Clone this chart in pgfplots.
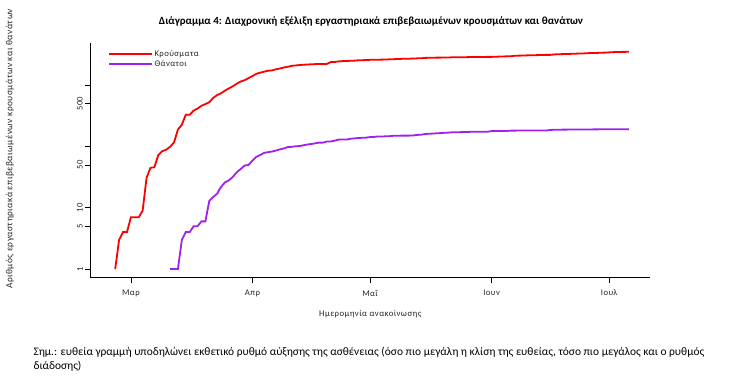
\documentclass[border=0pt]{standalone}
\usepackage{pgfplots}
\usepackage{pgfplotstable}
\pgfplotsset{compat=1.18}
\usepackage{fontspec}
\setmainfont{Carlito}
\newfontfamily\plotfont{Carlito}[LetterSpace=5]
\definecolor{rred}{HTML}{FF0000}
\definecolor{rpurple}{HTML}{A020F0}

\pgfplotstableread{
d v
-4 1
-3 3
-2 4
-1 4
0 7
1 7
2 7
3 9
4 31
5 45
6 46
7 73
8 84
9 89
10 99
11 117
12 190
13 228
14 331
15 331
16 387
17 418
18 464
19 495
20 530
21 624
22 695
23 743
24 821
25 892
26 966
27 1061
28 1156
29 1212
30 1314
31 1415
32 1544
33 1613
34 1673
35 1735
36 1755
37 1832
38 1884
39 1955
40 2011
41 2081
42 2114
43 2145
44 2170
45 2192
46 2207
47 2224
48 2235
49 2235
50 2245
51 2401
52 2408
53 2463
54 2490
55 2506
56 2517
57 2534
58 2566
59 2576
60 2591
61 2612
62 2620
63 2626
64 2632
65 2642
66 2663
67 2678
68 2691
69 2710
70 2716
71 2726
72 2744
73 2760
74 2770
75 2810
76 2819
77 2834
78 2836
79 2840
80 2850
81 2853
82 2873
83 2876
84 2878
85 2882
86 2892
87 2903
88 2906
89 2909
90 2915
91 2917
92 2918
93 2937
94 2952
95 2967
96 2980
97 2997
98 3049
99 3058
100 3068
101 3088
102 3108
103 3112
104 3121
105 3134
106 3148
107 3148
108 3203
109 3227
110 3237
111 3256
112 3266
113 3287
114 3302
115 3310
116 3343
117 3366
118 3376
119 3390
120 3409
121 3432
122 3458
123 3486
124 3511
125 3519
126 3525
127 3535
}\cases

\pgfplotstableread{
d v
10 1
11 1
12 1
13 3
14 4
15 4
16 5
17 5
18 6
19 6
20 13
21 15
22 17
23 22
24 26
25 28
26 32
27 38
28 43
29 49
30 50
31 59
32 68
33 73
34 79
35 81
36 83
37 86
38 90
39 93
40 98
41 99
42 101
43 102
44 105
45 108
46 110
47 113
48 116
49 116
50 121
51 121
52 125
53 130
54 130
55 130
56 134
57 136
58 138
59 139
60 140
61 143
62 144
63 146
64 146
65 147
66 148
67 150
68 150
69 151
70 151
71 151
72 152
73 155
74 156
75 160
76 162
77 163
78 165
79 166
80 168
81 169
82 171
83 171
84 172
85 173
86 173
87 175
88 175
89 175
90 175
91 175
92 179
93 179
94 179
95 180
96 180
97 182
98 182
99 183
100 183
101 183
102 183
103 183
104 183
105 183
106 183
107 187
108 188
109 188
110 189
111 189
112 190
113 190
114 190
115 190
116 190
117 190
118 191
119 191
120 192
121 192
122 192
123 192
124 192
125 192
126 192
127 192
}\deaths

\begin{document}
\begin{tikzpicture}[x=1bp,y=1bp]
\path[use as bounding box] (0,0) rectangle (741,391);
\node[font=\fontsize{11}{13}\selectfont\bfseries] at (371,370) {Διάγραμμα 4: Διαχρονική εξέλιξη εργαστηριακά επιβεβαιωμένων κρουσμάτων και θανάτων};
\begin{axis}[
  at={(90.5bp,113.3bp)}, anchor=south west,
  scale only axis, width=559.5bp, height=234.4bp,
  axis x line*=bottom, axis y line*=left,
  axis line style={black, line width=0.8bp, -},
  xmin=-10.3, xmax=132.4,
  ymode=log, ymin=0.7206, ymax=4864,
  xtick={0,31,61,92,122},
  xticklabels={Μαρ,Απρ,Μαΐ,Ιουν,Ιουλ},
  ytick={1,5,10,50,100,500,1000},
  yticklabels={1,5,10,50,,500,},
  minor tick num=0,
  tick align=outside,
  major tick length=5.5bp,
  tick style={black, line width=0.6bp},
  ticklabel style={font=\plotfont\fontsize{8.7}{10}\selectfont, text=black!85},
  yticklabel style={rotate=90, anchor=south, inner sep=2bp},
  xticklabel style={anchor=north, inner sep=1.5bp, yshift=-5bp},
  xlabel={Ημερομηνία ανακοίνωσης},
  xlabel style={at={(axis description cs:0.5,-0.155)}, anchor=center, font=\plotfont\fontsize{8.8}{10}\selectfont, text=black!85},
  ylabel={Αριθμός εργαστηριακά επιβεβαιωμένων κρουσμάτων και θανάτων},
  ylabel style={at={(axis description cs:-0.144,0.55)}, anchor=center, font=\plotfont\fontsize{9.4}{10}\selectfont, text=black!85},
  legend style={at={(axis description cs:0.026,0.985)}, anchor=north west, draw=none, fill=none,
    font=\plotfont\fontsize{8.7}{10}\selectfont, text=black!85, row sep=-1bp, nodes={inner sep=1.5bp}},
  legend cell align=left,
  legend image code/.code={\draw[#1] (0bp,0bp) -- (39bp,0bp); \path (0bp,0bp) -- (43bp,0bp);},
]
\addplot[rred, line width=1.8bp, no marks] table[x=d, y=v] {\cases};
\addlegendentry{Κρούσματα}
\addplot[rpurple, line width=1.8bp, no marks] table[x=d, y=v] {\deaths};
\addlegendentry{Θάνατοι}
\end{axis}
\node[anchor=west, font=\fontsize{11.5}{13}\selectfont] at (30,39) {Σημ.: ευθεία γραμμή υποδηλώνει εκθετικό ρυθμό αύξησης της ασθένειας (όσο πιο μεγάλη η κλίση της ευθείας, τόσο πιο μεγάλος και ο ρυθμός};
\node[anchor=west, font=\fontsize{11.5}{13}\selectfont] at (30,25) {διάδοσης)};
\end{tikzpicture}
\end{document}
